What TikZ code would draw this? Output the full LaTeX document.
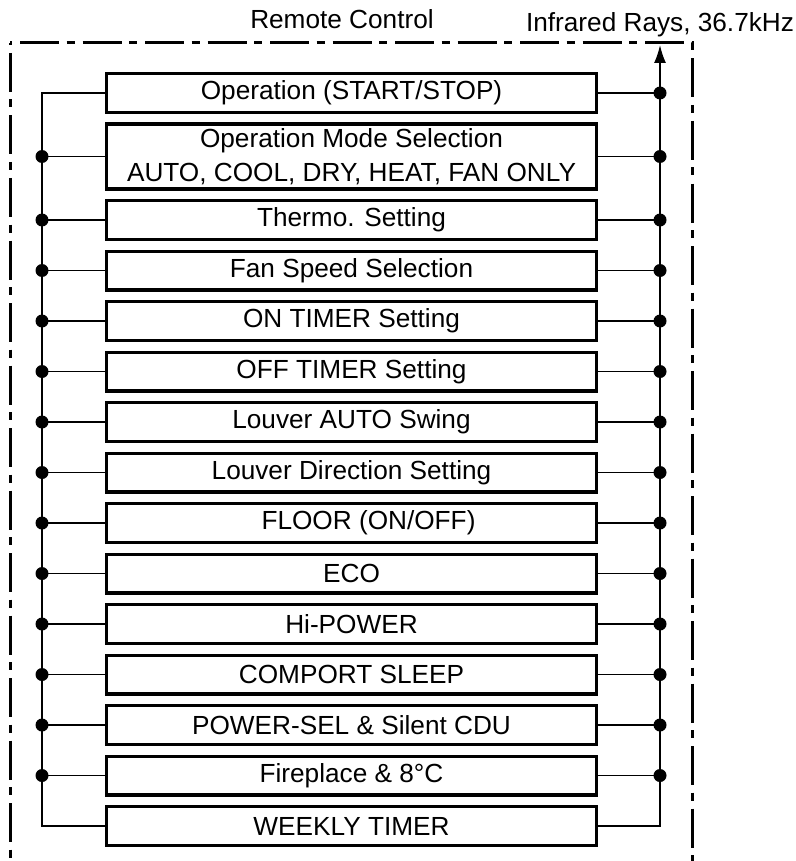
\documentclass[tikz,border=0pt]{standalone}
\usepackage{fontspec}
\setmainfont{Liberation Sans}
\usetikzlibrary{arrows.meta, positioning}

\begin{document}
\begin{tikzpicture}[
    x=1pt, y=-1pt,
    node distance=8.5pt,
    func/.style={draw, rectangle, line width=3.2pt, minimum width=489.8pt, minimum height=38.8pt, align=center, inner sep=0pt, font=\fontsize{26.2}{34}\selectfont},
    wire/.style={line width=1.6pt},
    dot/.style={circle, fill, inner sep=0pt, minimum size=13pt},
    rcframe/.style={line width=3pt, dash pattern=on 39pt off 7.5pt on 8pt off 8pt, dash phase=52.5pt},
    caption/.style={inner sep=0pt, anchor=base, font=\fontsize{26.2}{34}\selectfont}
]
\useasboundingbox (0,0) rectangle (795,861);

% remote control frame (open at the bottom)
\draw[rcframe] (10,43) -- (692,43) -- (692,861);
\draw[rcframe] (10,43) -- (10,861);

\node[caption] (rc) at (342,29) {Remote Control};
\node[caption] (ir) at (660,32) {Infrared Rays, 36.7kHz};

% function boxes
\node[func] (b1) at (351.5,93) {Operation (START/STOP)};
\node[func, minimum height=64.8pt, below=of b1] (b2) {Operation Mode Selection\\AUTO, COOL, DRY, HEAT, FAN ONLY};
\node[func, below=of b2] (b3) {Thermo. Setting};
\node[func, below=of b3] (b4) {Fan Speed Selection};
\node[func, below=of b4] (b5) {ON TIMER Setting};
\node[func, below=of b5] (b6) {OFF TIMER Setting};
\node[func, below=of b6] (b7) {Louver AUTO Swing};
\node[func, below=of b7] (b8) {Louver Direction Setting};
\node[func, below=of b8] (b9) {\hspace*{34pt}FLOOR (ON/OFF)};
\node[func, below=of b9] (b10) {ECO};
\node[func, below=of b10] (b11) {Hi-POWER};
\node[func, below=of b11] (b12) {COMPORT SLEEP};
\node[func, below=of b12] (b13) {POWER-SEL \& Silent CDU};
\node[func, below=of b13] (b14) {Fireplace \& 8°C};
\node[func, below=of b14] (b15) {WEEKLY TIMER};

\coordinate (lbus) at (42,93);
\coordinate (rbus) at (660,93);
\coordinate (irtip) at (660,45);

% buses
\draw[wire] (b1.west) -- (lbus) -- (lbus |- b15.west) -- (b15.west);
\draw[wire] (b15.east) -- (rbus |- b15.east) -- (rbus);
\draw[wire, -{Latex[length=18pt, width=12pt]}] (rbus) -- (irtip);
\draw[wire] (b1.east) -- (rbus) node[dot] {};

% taps
\draw[wire] (b2.west) -- (lbus |- b2.west) node[dot] {} (b2.east) -- (rbus |- b2.east) node[dot] {};
\draw[wire] (b3.west) -- (lbus |- b3.west) node[dot] {} (b3.east) -- (rbus |- b3.east) node[dot] {};
\draw[wire] (b4.west) -- (lbus |- b4.west) node[dot] {} (b4.east) -- (rbus |- b4.east) node[dot] {};
\draw[wire] (b5.west) -- (lbus |- b5.west) node[dot] {} (b5.east) -- (rbus |- b5.east) node[dot] {};
\draw[wire] (b6.west) -- (lbus |- b6.west) node[dot] {} (b6.east) -- (rbus |- b6.east) node[dot] {};
\draw[wire] (b7.west) -- (lbus |- b7.west) node[dot] {} (b7.east) -- (rbus |- b7.east) node[dot] {};
\draw[wire] (b8.west) -- (lbus |- b8.west) node[dot] {} (b8.east) -- (rbus |- b8.east) node[dot] {};
\draw[wire] (b9.west) -- (lbus |- b9.west) node[dot] {} (b9.east) -- (rbus |- b9.east) node[dot] {};
\draw[wire] (b10.west) -- (lbus |- b10.west) node[dot] {} (b10.east) -- (rbus |- b10.east) node[dot] {};
\draw[wire] (b11.west) -- (lbus |- b11.west) node[dot] {} (b11.east) -- (rbus |- b11.east) node[dot] {};
\draw[wire] (b12.west) -- (lbus |- b12.west) node[dot] {} (b12.east) -- (rbus |- b12.east) node[dot] {};
\draw[wire] (b13.west) -- (lbus |- b13.west) node[dot] {} (b13.east) -- (rbus |- b13.east) node[dot] {};
\draw[wire] (b14.west) -- (lbus |- b14.west) node[dot] {} (b14.east) -- (rbus |- b14.east) node[dot] {};

\end{tikzpicture}
\end{document}
